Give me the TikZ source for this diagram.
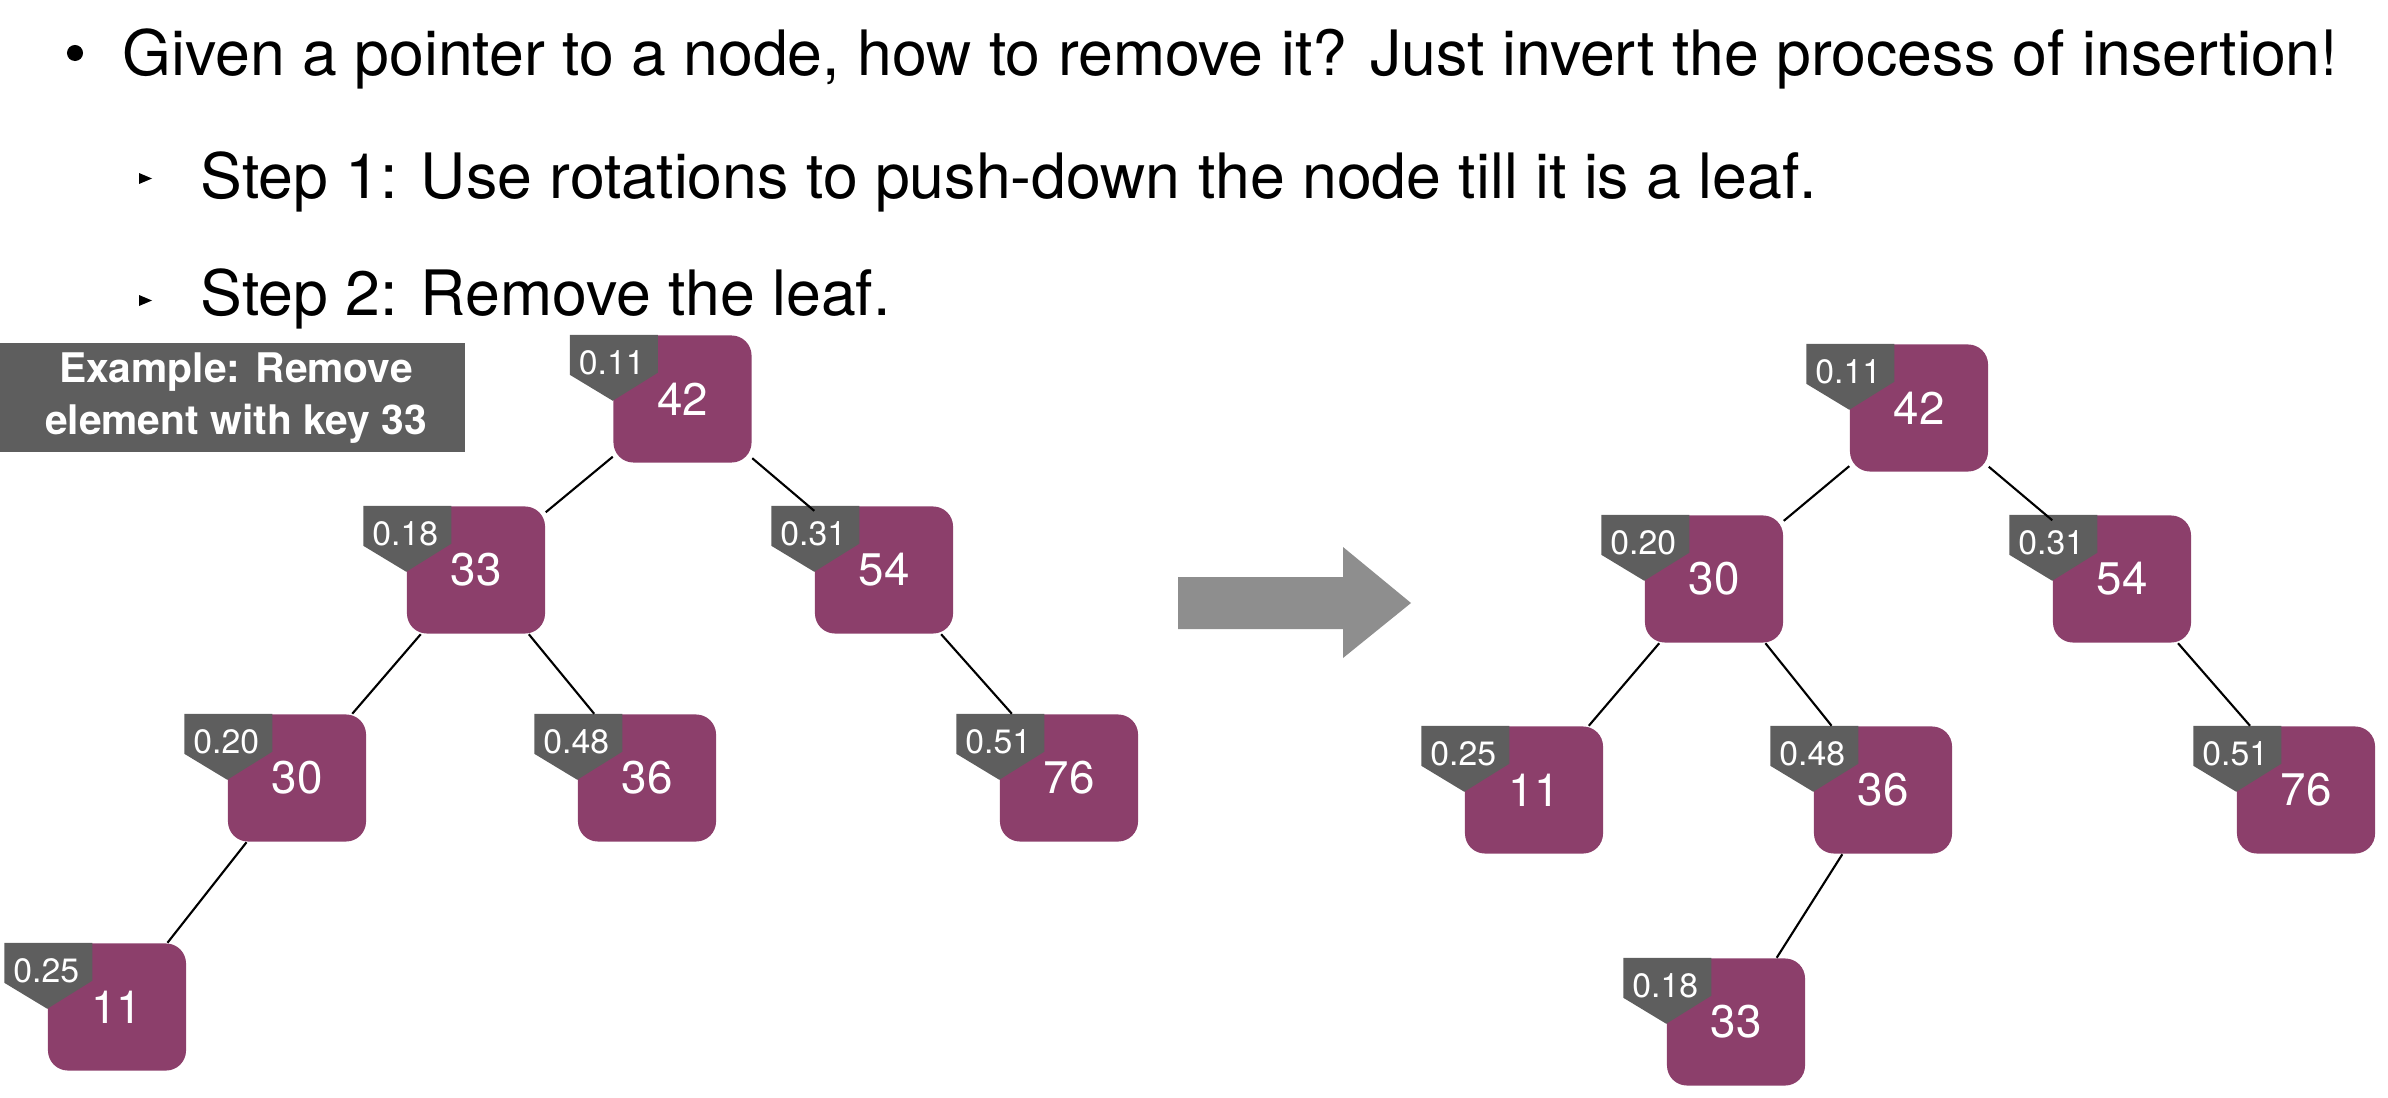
\documentclass[tikz,border=0pt]{standalone}
\usepackage{fontspec}
\setmainfont{TeX Gyre Heros}
\usetikzlibrary{calc}
\definecolor{keypurple}{HTML}{8C3F6B}
\definecolor{taggray}{HTML}{5E5E5E}
\definecolor{arrowgray}{HTML}{8E8E8E}
\tikzset{
  keybox/.style={fill=keypurple, rounded corners=0.2cm, minimum width=1.38cm, minimum height=1.27cm, inner sep=0pt, text=white, font=\fontsize{13}{15}\selectfont},
  tagtext/.style={text=white, inner sep=0pt, font=\fontsize{9.6}{11}\selectfont},
  tagfill/.style={fill=taggray},
  edge/.style={draw=black, line width=0.6pt},
  titletext/.style={anchor=base west, inner sep=0pt, font=\fontsize{17.8}{21}\selectfont},
}
\newcommand\tnode[5]{%
  \node[keybox] (#1) at (#2,#3) {#4};
  \fill[tagfill] ($(#1.north west)+(-43,0)$) -- ($(#1.north west)+(45,0)$) -- ($(#1.north west)+(45,38)$) -- ($(#1.north west)+(0,66)$) -- ($(#1.north west)+(-43,40)$) -- cycle;
  \node[tagtext] (#1p) at ($(#1.north west)+(-1,28)$) {#5};
}
\begin{document}
\begin{tikzpicture}[x=0.01cm, y=-0.01cm]
\useasboundingbox (0,0) rectangle (2388,1097);
% text
\fill (75,53) circle [radius=0.08cm];
\node[titletext] (t1) at (122,76) {Given a pointer to a node, how to remove it? Just invert the process of insertion!};
\fill (139,173) -- (152,178.5) -- (139,184) -- cycle;
\node[titletext] (t2) at (200,199) {Step 1: Use rotations to push-down the node till it is a leaf.};
\fill (139,295) -- (152,300.5) -- (139,306) -- cycle;
\node[titletext] (t3) at (200,315) {Step 2: Remove the leaf.};
% example box
\fill[taggray] (0,343) rectangle (465,452);
\node[text=white, inner sep=0pt, anchor=center, font=\fontsize{11.6}{14.8}\selectfont\bfseries, align=center] (ex) at (236,398) {Example: Remove\\element with key 33};
% left tree
\tnode{La}{682.5}{399}{42}{0.11}
\tnode{Lb}{476}{570}{33}{0.18}
\tnode{Lc}{884}{570}{54}{0.31}
\tnode{Ld}{297}{778}{30}{0.20}
\tnode{Le}{647}{778}{36}{0.48}
\tnode{Lf}{1069}{778}{76}{0.51}
\tnode{Lg}{117}{1007}{11}{0.25}
\draw[edge] (La) -- (Lb);
\draw[edge] (La) -- (Lc);
\draw[edge] (Lb) -- (Ld);
\draw[edge] (Lb) -- (Le);
\draw[edge] (Lc) -- (Lf);
\draw[edge] (Ld) -- (Lg);
% arrow
\fill[arrowgray] (1178,577) -- (1343,577) -- (1343,547) -- (1411,603) -- (1343,658) -- (1343,629) -- (1178,629) -- cycle;
% right tree
\tnode{Ra}{1919}{408}{42}{0.11}
\tnode{Rb}{1714}{579}{30}{0.20}
\tnode{Rc}{2122}{579}{54}{0.31}
\tnode{Rd}{1534}{790}{11}{0.25}
\tnode{Re}{1883}{790}{36}{0.48}
\tnode{Rf}{2306}{790}{76}{0.51}
\tnode{Rg}{1736}{1022}{33}{0.18}
\draw[edge] (Ra) -- (Rb);
\draw[edge] (Ra) -- (Rc);
\draw[edge] (Rb) -- (Rd);
\draw[edge] (Rb) -- (Re);
\draw[edge] (Rc) -- (Rf);
\draw[edge] (Re) -- (Rg);
\end{tikzpicture}
\end{document}
